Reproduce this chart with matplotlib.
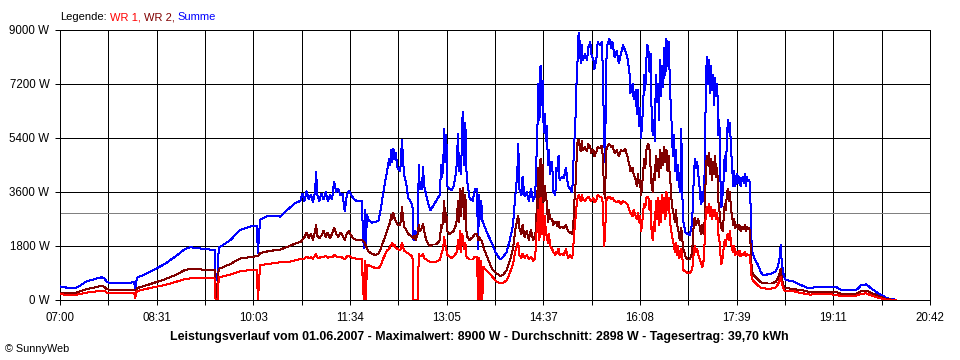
import matplotlib
matplotlib.use('Agg')
import matplotlib.pyplot as plt

# ---------------- data ----------------
# minutes after 07:00
t_offset = [
    0, 5, 9, 15, 19, 24, 28, 33, 39, 42,
    44, 47, 57, 66, 70, 71, 72, 73, 80, 92,
    99, 109, 118, 123, 132, 142, 146, 147, 149, 150,
    151, 161, 170, 180, 186, 187, 189, 196, 203, 208,
    213, 217, 222, 227, 229, 231, 233, 235, 237, 239,
    241, 242, 243, 245, 247, 249, 251, 253, 255, 257,
    259, 261, 263, 265, 267, 269, 271, 273, 275, 277,
    280, 283, 285, 287, 288, 289, 290, 292, 295, 298,
    301, 303, 305, 307, 309, 311, 312, 313, 314, 315,
    316, 317, 319, 321, 322, 323, 324, 325, 327, 329,
    331, 333, 334, 335, 336, 337, 338, 339, 340, 342,
    343, 344, 346, 348, 350, 352, 355, 357, 359, 360,
    361, 362, 363, 364, 365, 366, 368, 370, 372, 374,
    375, 376, 377, 378, 379, 380, 381, 382, 383, 384,
    385, 387, 390, 392, 394, 395, 396, 397, 398, 399,
    400, 404, 408, 412, 416, 419, 422, 425, 428, 430,
    432, 433, 434, 436, 437, 439, 441, 443, 445, 447,
    449, 450, 451, 452, 453, 454, 455, 456, 457, 458,
    459, 460, 461, 462, 463, 465, 466, 468, 469, 470,
    471, 472, 474, 476, 478, 480, 482, 484, 485, 486,
    487, 488, 489, 490, 491, 492, 493, 494, 496, 498,
    499, 501, 502, 504, 505, 507, 508, 510, 512, 513,
    514, 515, 516, 517, 519, 521, 522, 524, 526, 528,
    530, 532, 534, 536, 538, 539, 541, 542, 544, 545,
    546, 547, 548, 549, 550, 551, 552, 553, 554, 555,
    556, 557, 558, 559, 560, 561, 562, 563, 564, 565,
    566, 567, 568, 569, 570, 571, 572, 573, 574, 575,
    576, 577, 578, 579, 580, 581, 582, 583, 584, 585,
    586, 587, 588, 589, 591, 593, 595, 597, 598, 599,
    600, 601, 602, 603, 604, 605, 606, 607, 608, 609,
    610, 611, 612, 613, 614, 615, 616, 617, 618, 619,
    620, 621, 622, 623, 624, 625, 626, 627, 628, 629,
    630, 631, 632, 633, 634, 635, 636, 637, 638, 640,
    641, 642, 643, 645, 646, 647, 648, 649, 650, 651,
    652, 653, 654, 656, 659, 662, 664, 668, 672, 676,
    678, 680, 681, 682, 684, 686, 690, 694, 696, 700,
    705, 709, 715, 721, 728, 734, 738, 748, 753, 757,
    762, 766, 772, 777, 781, 786, 790,
]

summe = [
    450, 420, 400, 400, 480, 600, 650, 700, 760, 720,
    610, 570, 560, 570, 600, 400, 600, 750, 850, 1070,
    1200, 1450, 1700, 1760, 1720, 1680, 1680, 670, 900, 1750,
    1760, 2000, 2330, 2450, 2470, 1570, 2670, 2800, 2800, 2780,
    2950, 3070, 3230, 3300, 3550, 3300, 3620, 3350, 3500, 3280,
    3600, 4280, 3500, 3300, 3550, 3350, 3600, 3300, 3500, 3350,
    3950, 3600, 3700, 3500, 3550, 2950, 3500, 3650, 3500, 3400,
    3300, 3300, 3300, 1720, 3000, 1800, 2830, 2650, 2580, 2600,
    2650, 3000, 3500, 3900, 4300, 4700, 4500, 5000, 4600, 5050,
    4700, 4900, 4400, 4300, 4500, 5350, 4800, 4200, 3900, 3400,
    3300, 3150, 2000, 2300, 2100, 2200, 2300, 4500, 3700, 3700,
    4450, 3800, 3500, 3200, 3000, 3100, 3280, 3400, 3500, 4500,
    4100, 4400, 5700, 4600, 5500, 3800, 3700, 3650, 3800, 4200,
    4600, 5550, 4300, 4800, 4200, 6000, 6280, 4500, 5900, 4300,
    3900, 3400, 3300, 3700, 3700, 1700, 3500, 2700, 3300, 2650,
    2550, 2200, 1900, 1550, 1350, 1450, 1600, 2000, 2500, 3400,
    4200, 5200, 3700, 3500, 4100, 3450, 3600, 3300, 3700, 3300,
    3500, 4600, 5600, 7200, 6000, 7800, 6500, 7300, 5600, 6200,
    5300, 5800, 4500, 5000, 4200, 4600, 3600, 3500, 4400, 4300,
    4800, 4000, 4100, 4050, 4400, 3800, 3700, 3600, 4500, 5300,
    6000, 7200, 8000, 8900, 8600, 7900, 8500, 8000, 8200, 8000,
    8400, 8600, 8200, 8000, 7700, 8100, 8600, 8500, 8600, 7500,
    5500, 4600, 7800, 8500, 8700, 8400, 8600, 8100, 8300, 7900,
    8200, 8500, 8300, 8100, 7600, 6900, 7200, 6700, 7000, 6200,
    7000, 5800, 6400, 5400, 5900, 6500, 7500, 7000, 8000, 8500,
    8300, 7600, 8200, 6200, 5500, 6000, 5300, 7500, 6600, 7200,
    6000, 8000, 6800, 7800, 7100, 8400, 7500, 8700, 7800, 8600,
    7600, 6500, 5800, 4800, 5500, 4300, 5000, 4000, 4500, 3800,
    3600, 5700, 3500, 2600, 2250, 2200, 2150, 2500, 3200, 4300,
    4700, 4400, 4600, 4200, 3900, 3400, 3200, 3600, 3300, 4200,
    6500, 8100, 7200, 8000, 6900, 7800, 7000, 7500, 6500, 7400,
    6800, 7200, 5500, 6000, 4000, 3100, 3500, 4000, 4800, 4300,
    5200, 6000, 5600, 5900, 5000, 4500, 3800, 4300, 3800, 4200,
    3900, 4100, 3800, 4100, 3900, 4200, 3800, 4100, 3950, 4000,
    3900, 2200, 1600, 1400, 1200, 950, 830, 850, 880, 950,
    1100, 1400, 1850, 1200, 780, 660, 640, 610, 560, 500,
    420, 400, 430, 440, 430, 420, 330, 330, 350, 500,
    520, 400, 250, 150, 60, 30, 10,
]

wr2 = [
    250, 240, 240, 240, 290, 350, 380, 420, 470, 440,
    370, 340, 330, 330, 340, 330, 340, 400, 470, 610,
    690, 830, 1000, 1040, 1020, 1000, 1000, 0, 600, 1050,
    1050, 1200, 1380, 1430, 1460, 1460, 1560, 1620, 1660, 1680,
    1750, 1800, 1880, 1930, 2000, 2100, 2250, 2050, 2200, 2000,
    2300, 2500, 2150, 2050, 2150, 2300, 2100, 2250, 2050, 2200,
    2400, 2200, 2100, 2250, 2150, 2000, 2200, 2300, 2150, 2050,
    2000, 2000, 2000, 1950, 1900, 1800, 1700, 1600, 1540, 1500,
    1550, 1700, 1900, 2100, 2300, 2500, 2600, 2850, 2700, 2900,
    2750, 2650, 2500, 2500, 2600, 3100, 2800, 2450, 2350, 2200,
    2150, 2100, 2050, 2150, 2000, 2100, 2200, 2500, 2300, 2400,
    2550, 2300, 2000, 1850, 1800, 1850, 1850, 1900, 2000, 2500,
    2400, 2700, 3300, 2600, 2900, 2300, 2200, 2250, 2300, 2500,
    2700, 3300, 2600, 3700, 2800, 3600, 3750, 2700, 3500, 2300,
    2100, 2000, 2100, 2200, 2200, 2000, 2100, 2000, 2000, 1900,
    1750, 1400, 1050, 900, 800, 850, 1000, 1300, 1700, 2300,
    2700, 2800, 2400, 2200, 2500, 2100, 2300, 2000, 2350, 2000,
    2100, 2700, 3500, 4400, 3000, 4700, 3200, 4500, 3300, 3800,
    3500, 3200, 2600, 3000, 2700, 2700, 2500, 2600, 2600, 2450,
    2600, 2400, 2450, 2400, 2500, 2300, 2250, 2200, 2500, 3300,
    3800, 4600, 5300, 5350, 5100, 4950, 5300, 5000, 5100, 4950,
    5200, 5100, 4900, 5000, 4800, 4950, 5100, 5050, 5150, 4700,
    3600, 3400, 5000, 5100, 5200, 5100, 5150, 4900, 5000, 4800,
    5000, 4950, 5050, 4800, 4500, 4300, 4400, 4200, 4000, 3800,
    4200, 3900, 4000, 3500, 3800, 4300, 4700, 4400, 5000, 5150,
    5200, 5000, 4400, 3800, 3600, 4200, 4000, 4800, 4300, 4700,
    4100, 5000, 4400, 4900, 4500, 5100, 4600, 5000, 4300, 4800,
    4200, 3800, 3200, 3000, 2800, 2600, 3000, 2500, 2400, 2100,
    2000, 2400, 2000, 1700, 1450, 1350, 1350, 1550, 2000, 2700,
    2750, 2500, 2600, 2700, 2550, 2300, 2200, 2500, 2200, 2600,
    4000, 4800, 4500, 4900, 4200, 4700, 4000, 4600, 4200, 4800,
    4100, 4400, 3300, 3000, 2600, 2400, 2300, 2700, 3200, 3000,
    3500, 3700, 3300, 3600, 3000, 2800, 2500, 2700, 2400, 2500,
    2350, 2500, 2300, 2450, 2350, 2500, 2300, 2450, 2350, 2400,
    2300, 1300, 950, 800, 700, 600, 560, 550, 550, 600,
    700, 900, 1050, 700, 430, 400, 380, 370, 350, 330,
    300, 250, 270, 280, 270, 260, 200, 200, 220, 300,
    310, 250, 150, 80, 30, 10, 0,
]

wr1 = [
    190, 180, 170, 175, 200, 240, 260, 280, 310, 300,
    250, 240, 240, 240, 250, 60, 250, 300, 360, 450,
    500, 600, 700, 720, 720, 720, 720, 0, 0, 750,
    760, 850, 950, 1000, 1000, 0, 1150, 1200, 1230, 1260,
    1270, 1280, 1320, 1360, 1350, 1380, 1450, 1400, 1420, 1380,
    1480, 1520, 1420, 1400, 1450, 1420, 1480, 1400, 1440, 1420,
    1500, 1460, 1420, 1450, 1400, 1350, 1450, 1480, 1420, 1400,
    1380, 1350, 1380, 0, 1300, 0, 1170, 1150, 1100, 1070,
    1070, 1150, 1350, 1500, 1650, 1700, 1800, 1850, 1900, 1800,
    1850, 1750, 1700, 1650, 1700, 1900, 1800, 1650, 1600, 1550,
    1500, 1450, 0, 0, 0, 0, 0, 1550, 1450, 1450,
    1550, 1400, 1350, 1300, 1270, 1280, 1280, 1300, 1350, 1500,
    1600, 1700, 2100, 1850, 1700, 1500, 1450, 1400, 1450, 1550,
    1600, 2000, 1700, 2300, 1600, 2200, 2000, 1700, 1900, 1450,
    1400, 1350, 1350, 1450, 1450, 0, 1400, 0, 1300, 0,
    1100, 950, 800, 620, 560, 580, 650, 900, 1200, 1600,
    1850, 1900, 1500, 1400, 1550, 1400, 1500, 1350, 1450, 1300,
    1400, 2200, 2500, 3000, 2000, 3400, 2200, 3200, 2000, 2800,
    2300, 2100, 1900, 2200, 1800, 1700, 1600, 1500, 1600, 1550,
    1700, 1500, 1550, 1500, 1700, 1400, 1500, 1400, 1800, 2300,
    2700, 3100, 3400, 3500, 3400, 3300, 3500, 3350, 3300, 3400,
    3450, 3350, 3300, 3400, 3250, 3350, 3500, 3450, 3400, 3200,
    1800, 2100, 3300, 3400, 3450, 3350, 3400, 3300, 3250, 3300,
    3200, 3300, 3250, 3200, 3000, 2900, 2800, 3000, 2800, 2700,
    2900, 2600, 2800, 2300, 2500, 3000, 3200, 3100, 3400, 3450,
    3400, 3000, 3300, 2200, 2000, 2600, 2300, 3300, 2700, 3400,
    2500, 3300, 2600, 3500, 2900, 3400, 2700, 3600, 3000, 3400,
    2800, 2400, 2200, 2000, 1800, 1600, 1900, 1500, 1800, 1400,
    1500, 1700, 1400, 1000, 950, 900, 900, 1000, 1200, 1700,
    1800, 1600, 1700, 1500, 1400, 1300, 1200, 1100, 1300, 1900,
    2800, 3100, 2900, 3200, 2800, 3100, 2700, 3000, 2800, 3000,
    2700, 2900, 2200, 2000, 1500, 1200, 1400, 1700, 2000, 1800,
    2100, 2200, 2000, 2300, 1900, 1700, 1600, 1800, 1500, 1600,
    1500, 1650, 1450, 1550, 1500, 1600, 1450, 1550, 1500, 1500,
    1450, 900, 700, 600, 500, 420, 390, 380, 380, 420,
    500, 650, 780, 550, 330, 300, 300, 290, 260, 240,
    200, 180, 200, 200, 190, 170, 130, 130, 150, 210,
    220, 160, 90, 40, 10, 0, 0,
]

average_w = 2898
y_ticks = [0, 1800, 3600, 5400, 7200, 9000]
x_tick_labels = ["07:00", "08:31", "10:03", "11:34", "13:05",
                 "14:37", "16:08", "17:39", "19:11", "20:42"]
start_min, end_min = 7 * 60, 20 * 60 + 42

legend_parts = [("Legende:", "#000000"), ("WR 1,", "#ff0000"),
                ("WR 2,", "#800000"), ("Summe", "#0000ff")]
caption = ("Leistungsverlauf vom 01.06.2007 - Maximalwert: 8900 W - "
           "Durchschnitt: 2898 W - Tagesertrag: 39,70 kWh")

# ---------------- figure ----------------
plt.rcParams['font.family'] = ['Liberation Sans', 'DejaVu Sans']
W, H = 960, 360
PX = 0.72  # one pixel in points at dpi 100
fig = plt.figure(figsize=(W / 100, H / 100), dpi=100)
fig.patch.set_facecolor('white')
ax = fig.add_axes([60 / W, 1 - 300 / H, 870 / W, 270 / H])

x = [start_min + t for t in t_offset]
ax.axhline(average_w, color='#808080', lw=PX, zorder=2, antialiased=False)
ax.plot(x, summe, color='#0000ff', lw=PX, zorder=3, antialiased=False)
ax.plot(x, wr2, color='#800000', lw=PX, zorder=4, antialiased=False)
ax.plot(x, wr1, color='#ff0000', lw=PX, zorder=5, antialiased=False)

ax.set_xlim(start_min, end_min)
ax.set_ylim(0, 9000)
n_int = 18
xt = [start_min + i * (end_min - start_min) / n_int for i in range(n_int + 1)]
ax.set_xticks(xt)
labels = []
for i in range(n_int + 1):
    labels.append(x_tick_labels[i // 2] if i % 2 == 0 else "")
ax.set_xticklabels(labels)
ax.set_yticks(y_ticks)
ax.set_yticklabels([f"{v} W" for v in y_ticks])
ax.tick_params(axis='both', length=5 * PX, width=PX, color='black',
               labelsize=8.3, labelcolor='black')
ax.tick_params(axis='x', pad=5)
ax.tick_params(axis='y', pad=4)
ax.grid(True, color='black', lw=PX, antialiased=False)
for s in ax.spines.values():
    s.set_color('black')
    s.set_linewidth(PX)
    s.set_antialiased(False)

# legend line at the top
fig.canvas.draw()
r = fig.canvas.get_renderer()
xpos = 60
for txt, col in legend_parts:
    t = fig.text(xpos / W, 1 - 17 / H, txt, color=col, fontsize=8.0,
                 ha='left', va='center')
    bb = t.get_window_extent(renderer=r)
    xpos = bb.x1 + 3

fig.text(479 / W, 1 - 337 / H, caption, fontsize=8.9, fontweight='bold',
         ha='center', va='center')
fig.text(5 / W, 1 - 349 / H, "\u00a9 SunnyWeb", fontsize=7.8,
         ha='left', va='center')

fig.savefig('out.png', dpi=100)
